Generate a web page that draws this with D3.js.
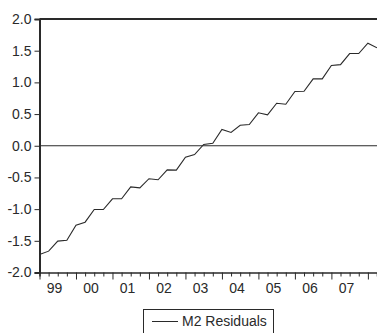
<!DOCTYPE html>
<html>
<head>
<meta charset="utf-8">
<script src="https://cdn.jsdelivr.net/npm/d3@7"></script>
<style>
  body { margin: 0; background: #fff; }
  svg { display: block; font-family: "Liberation Sans", Arial, sans-serif; }
</style>
</head>
<body>
<div id="chart"></div>
<script>
// Datos: residuos trimestrales 1999Q1 - 2008Q2
const yearLabels = ["99", "00", "01", "02", "03", "04", "05", "06", "07"];
const residuals = [
  -1.715, -1.663, -1.505, -1.490,
  -1.253, -1.206, -1.006, -1.006,
  -0.837, -0.837, -0.650, -0.665,
  -0.520, -0.537, -0.380, -0.385,
  -0.180, -0.138, 0.020, 0.040,
  0.256, 0.209, 0.324, 0.335,
  0.520, 0.488, 0.671, 0.655,
  0.856, 0.860, 1.055, 1.055,
  1.266, 1.280, 1.455, 1.455,
  1.618, 1.545
];
const yTicks = [-2.0, -1.5, -1.0, -0.5, 0.0, 0.5, 1.0, 1.5, 2.0];
const seriesName = "M2 Residuals";

const width = 377;
const height = 333;
const plotLeft = 39.5, plotRight = 377, plotTop = 19, plotBottom = 272.5;

const svg = d3.select("#chart").append("svg")
    .attr("width", width)
    .attr("height", height);

const x = d3.scaleLinear().domain([0, residuals.length - 1]).range([plotLeft, plotRight]);
const y = d3.scaleLinear().domain([-2, 2]).range([plotBottom, plotTop]);

const ink = "#2a2a2a";

// Eje Y
const yAxis = svg.append("g")
    .attr("transform", `translate(${plotLeft},0)`)
    .call(d3.axisLeft(y).tickValues(yTicks).tickSize(5).tickPadding(3).tickFormat(d => d.toFixed(1)));
yAxis.select(".domain").attr("stroke", ink).attr("stroke-width", 2);
yAxis.selectAll(".tick line").attr("stroke", ink);
yAxis.selectAll("text").attr("fill", ink).style("font-size", "14px");

// Eje X: marcas trimestrales, las de inicio de año más largas
const quarterIdx = d3.range(0, residuals.length);
const xAxis = svg.append("g")
    .attr("transform", `translate(0,${plotBottom})`)
    .call(d3.axisBottom(x).tickValues(quarterIdx).tickSize(4).tickFormat(""));
xAxis.select(".domain").attr("stroke", ink).attr("stroke-width", 1.5);
xAxis.selectAll(".tick line")
    .attr("stroke", ink)
    .attr("y2", d => d % 4 === 0 ? 7 : 4);

svg.append("g").selectAll("text")
    .data(yearLabels)
    .enter().append("text")
    .attr("x", (d, i) => x(i * 4 + 1.65))
    .attr("y", 293)
    .attr("text-anchor", "middle")
    .attr("fill", ink)
    .style("font-size", "14px")
    .text(d => d);

// Línea superior del marco
svg.append("line")
    .attr("x1", plotLeft).attr("x2", width)
    .attr("y1", y(2)).attr("y2", y(2))
    .attr("stroke", ink).attr("stroke-width", 2);

// Línea de cero
svg.append("line")
    .attr("x1", plotLeft).attr("x2", width)
    .attr("y1", y(0)).attr("y2", y(0))
    .attr("stroke", ink).attr("stroke-width", 1);

// Serie
const line = d3.line()
    .x((d, i) => x(i))
    .y(d => y(d));

svg.append("path")
    .datum(residuals)
    .attr("d", line)
    .attr("fill", "none")
    .attr("stroke", ink)
    .attr("stroke-width", 1.1);

// Leyenda
const legend = svg.append("g");
legend.append("rect")
    .attr("x", 143.5).attr("y", 309.5)
    .attr("width", 130).attr("height", 40)
    .attr("fill", "none")
    .attr("stroke", ink);
legend.append("line")
    .attr("x1", 152).attr("x2", 178)
    .attr("y1", 321.5).attr("y2", 321.5)
    .attr("stroke", ink);
legend.append("text")
    .attr("x", 182).attr("y", 321.5)
    .attr("dy", "0.35em")
    .attr("fill", ink)
    .style("font-size", "14px")
    .text(seriesName);
</script>
</body>
</html>
